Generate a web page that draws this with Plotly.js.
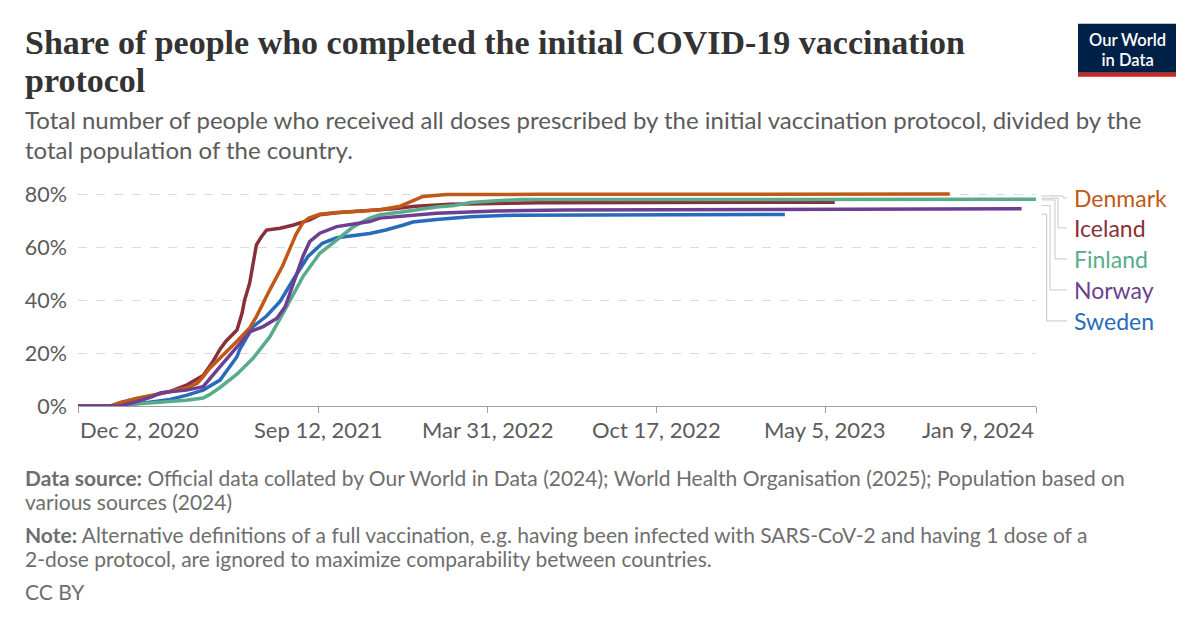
<!DOCTYPE html>
<html><head><meta charset="utf-8">
<script src="https://cdn.plot.ly/plotly-3.0.1.min.js"></script>
<style>html,body{margin:0;padding:0;background:#fff}</style>
</head><body><div id="chart" style="width:1200px;height:628px"></div>
<script>
// ---- data (share of population, %) ----
const denmarkDates = ['2020-12-02','2021-01-10','2021-01-21','2021-02-09','2021-03-01','2021-03-21','2021-04-09','2021-04-22','2021-04-29','2021-05-06','2021-05-19','2021-06-08','2021-06-23','2021-07-01','2021-07-17','2021-08-01','2021-08-09','2021-08-17','2021-08-25','2021-09-01','2021-09-14','2021-10-04','2021-11-12','2021-11-24','2021-12-18','2022-01-02','2022-01-14','2022-02-11','2022-06-01','2023-09-29'];
const denmarkValues = [0,0,1.3,2.9,4.2,5.4,6.8,8.6,11,14,18,24.5,29.5,33.8,44,53,59,65,69.3,71,72.5,73.1,73.9,74.2,75.5,77.5,79.2,79.9,80.0,80.1];

const icelandDates = ['2020-12-02','2021-01-10','2021-01-21','2021-02-09','2021-03-01','2021-03-21','2021-04-10','2021-04-29','2021-05-10','2021-05-19','2021-05-26','2021-05-31','2021-06-08','2021-06-14','2021-06-17','2021-06-23','2021-06-27','2021-07-01','2021-07-07','2021-07-13','2021-07-29','2021-08-14','2021-09-02','2021-09-14','2021-10-04','2021-11-12','2021-12-10','2022-01-05','2022-02-15','2022-06-01','2023-05-16'];
const icelandValues = [0,0,1.3,2.8,4,5.5,8,11.5,16.5,21.5,24.5,26.2,28.7,35,40,46.4,54,60.9,64,66.5,67.2,68.4,70.3,72.3,73.0,73.8,74.5,75.5,76.2,76.8,77.0];

const finlandDates = ['2020-12-02','2021-01-10','2021-01-28','2021-02-20','2021-03-21','2021-04-09','2021-04-29','2021-05-06','2021-05-19','2021-06-08','2021-06-27','2021-07-17','2021-08-06','2021-08-25','2021-09-14','2021-10-04','2021-10-24','2021-11-12','2021-11-24','2021-12-22','2022-01-30','2022-02-20','2022-03-11','2022-04-10','2022-05-10','2024-01-09'];
const finlandValues = [0,0,0.5,1.0,1.9,2.2,3.0,4.2,7.0,12,18,26.2,37.6,48.9,57.7,62.8,67.8,71,72.3,73.4,75.2,75.8,76.9,77.6,78.0,78.1];

const norwayDates = ['2020-12-02','2021-01-21','2021-02-09','2021-02-28','2021-03-10','2021-03-21','2021-04-09','2021-04-29','2021-05-06','2021-05-19','2021-05-31','2021-06-11','2021-06-23','2021-07-09','2021-07-25','2021-08-04','2021-08-16','2021-08-25','2021-09-02','2021-09-14','2021-10-04','2021-11-12','2021-11-24','2021-12-22','2022-01-30','2022-04-10','2022-07-01','2023-12-23'];
const norwayValues = [0,0,1.6,3.5,5,5.4,6,7.3,9.8,14.9,19.3,23.7,28,30,33.1,37.5,48.9,56.5,62.1,65.3,67.8,69.7,71.0,71.8,72.8,73.7,74.1,74.5];

const swedenDates = ['2020-12-02','2021-01-21','2021-02-09','2021-03-21','2021-04-09','2021-04-29','2021-05-19','2021-06-08','2021-06-11','2021-06-27','2021-07-13','2021-07-29','2021-08-14','2021-08-31','2021-09-17','2021-10-04','2021-11-12','2021-12-01','2021-12-22','2022-01-02','2022-01-30','2022-03-11','2022-05-01','2023-03-18'];
const swedenValues = [0,0,0.8,2.5,4,6,9.8,18.6,21.2,30,34,39.5,48,56.5,61.5,63.6,65.2,66.5,68.4,69.5,70.5,71.5,72.1,72.4];

const countryNames = ['Denmark','Iceland','Finland','Norway','Sweden'];
const xTickDates = ['2020-12-02','2021-09-12','2022-03-31','2022-10-17','2023-05-05','2024-01-09'];
const xTickLabels = ['Dec 2, 2020','Sep 12, 2021','Mar 31, 2022','Oct 17, 2022','May 5, 2023','Jan 9, 2024'];
const yTickValues = [0,20,40,60,80];
const yTickLabels = ['0%','20%','40%','60%','80%'];

// ---- styling ----
const colors = {Denmark:'#C05917', Iceland:'#883039', Finland:'#58AC8C', Norway:'#6D3E91', Sweden:'#286BBB'};
const series = {
  Denmark:[denmarkDates, denmarkValues], Iceland:[icelandDates, icelandValues],
  Finland:[finlandDates, finlandValues], Norway:[norwayDates, norwayValues],
  Sweden:[swedenDates, swedenValues]
};
const drawOrder = ['Iceland','Sweden','Finland','Denmark','Norway'];
const traces = drawOrder.map(n => ({
  type:'scatter', mode:'lines', name:n, x:series[n][0], y:series[n][1],
  line:{color:colors[n], width:3.5, shape:'linear'}, hoverinfo:'skip'
}));

const W=1200, H=628, L=78, R=1036, T=189.1, B=406;
const px = x => (x-L)/(R-L);
const py = y => (B-y)/(B-T);
const font = 'Lato, "Open Sans", sans-serif';

const ann = [];
function txt(text, x, y, size, color, xanchor, extra){
  ann.push(Object.assign({text, xref:'paper', yref:'paper', x:px(x), y:py(y), xanchor:xanchor||'left', yanchor:'middle',
    showarrow:false, font:{family:font, size, color}}, extra||{}));
}
// title (one text, two lines; line gap set after drawing)
const titleFont = {family:'"Liberation Serif", "DejaVu Serif", serif', size:34, color:'#333', weight:700};
ann.push({text:'Share of people who completed the initial COVID-19 vaccination<br>protocol', xref:'paper', yref:'paper', x:px(23), y:py(22.5), xanchor:'left', yanchor:'top', align:'left', showarrow:false, font:titleFont});
// subtitle
txt('Total number of people who received all doses prescribed by the initial vaccination protocol, divided by the', 23, 120, 24, '#5b5b5b');
txt('total population of the country.', 23, 150, 24, '#5b5b5b');
// x tick labels
xTickLabels.forEach((t,i) => {
  const xa = i===0 ? 'left' : (i===xTickLabels.length-1 ? 'right' : 'center');
  ann.push({text:t, xref:'x', yref:'paper', x:xTickDates[i], y:py(429), xanchor:xa, yanchor:'middle', showarrow:false,
    font:{family:font, size:22, color:'#5b5b5b'}});
});
// footer
txt('<b>Data source:</b> Official data collated by Our World in Data (2024); World Health Organisation (2025); Population based on', 23, 477, 21, '#6e6e6e');
txt('various sources (2024)', 23, 501, 21, '#6e6e6e');
txt('<b>Note:</b> Alternative definitions of a full vaccination, e.g. having been infected with SARS-CoV-2 and having 1 dose of a', 23, 534, 21, '#6e6e6e');
txt('2-dose protocol, are ignored to maximize comparability between countries.', 23, 558, 21, '#6e6e6e');
txt('CC BY', 23, 591, 21, '#6e6e6e');
// logo text (one text, two lines)
ann.push({text:'Our World<br>in Data', xref:'paper', yref:'paper', x:px(1127), y:py(28.5), xanchor:'center', yanchor:'top', align:'center', showarrow:false, font:{family:font, size:16.5, color:'#fff', weight:600}});

// end labels + connectors (pixel layout positions)
const labelY = {Denmark:198, Iceland:228, Finland:259, Norway:290, Sweden:321};
const connStartY = {Denmark:196, Iceland:198.3, Finland:200, Norway:205.7, Sweden:214.3};
const connElbowX = {Denmark:1063, Iceland:1058, Finland:1055, Norway:1050, Sweden:1046.7};
const shapes = [];
countryNames.forEach(n => {
  txt(n, 1072, labelY[n], 23, colors[n]);
  const p = `M ${px(1041.5)},${py(connStartY[n])} L ${px(connElbowX[n])},${py(connStartY[n])} L ${px(connElbowX[n])},${py(labelY[n])} L ${px(1067)},${py(labelY[n])}`;
  shapes.push({type:'path', xref:'paper', yref:'paper', path:p, line:{color:'#c8c8c8', width:1}});
});
// logo boxes
shapes.push({type:'rect', xref:'paper', yref:'paper', x0:px(1078), x1:px(1176), y0:py(24), y1:py(73), fillcolor:'#002147', line:{width:0}});
shapes.push({type:'rect', xref:'paper', yref:'paper', x0:px(1078), x1:px(1176), y0:py(73), y1:py(77), fillcolor:'#CE261E', line:{width:0}});

const layout = {
  width:W, height:H, paper_bgcolor:'#fff', plot_bgcolor:'#fff', showlegend:false,
  margin:{l:L, r:W-R, t:T, b:H-B, pad:0},
  xaxis:{type:'date', range:['2020-12-02','2024-01-09'], tickvals:xTickDates, showticklabels:false,
    ticks:'outside', ticklen:6, tickcolor:'#a0a0a0', tickwidth:1, showline:true, linecolor:'#a0a0a0', linewidth:1,
    showgrid:false, zeroline:false, fixedrange:true},
  yaxis:{range:[0,82], tickvals:yTickValues, ticktext:yTickLabels, showgrid:true, gridcolor:'#dcdcdc', griddash:'dash',
    gridwidth:1, zeroline:false, showline:false, ticks:'', ticklabelstandoff:10,
    tickfont:{family:font, size:21.5, color:'#5b5b5b'}, fixedrange:true},
  annotations:ann, shapes:shapes
};
Plotly.newPlot('chart', traces, layout, {staticPlot:true, displayModeBar:false}).then(gd => {
  // line spacing of the two-line texts (title and logo), in em
  const gaps = {'Our World': 1.22, 'Share of': 1.11};
  gd.querySelectorAll('.annotation-text').forEach(t => {
    const key = Object.keys(gaps).find(k => (t.textContent||'').startsWith(k));
    if(!key) return;
    t.querySelectorAll('tspan.line').forEach(ts => {
      const dy = ts.getAttribute('dy');
      if(dy && parseFloat(dy) > 0) ts.setAttribute('dy', (parseFloat(dy)/1.3*gaps[key]) + 'em');
    });
  });
});
</script></body></html>
